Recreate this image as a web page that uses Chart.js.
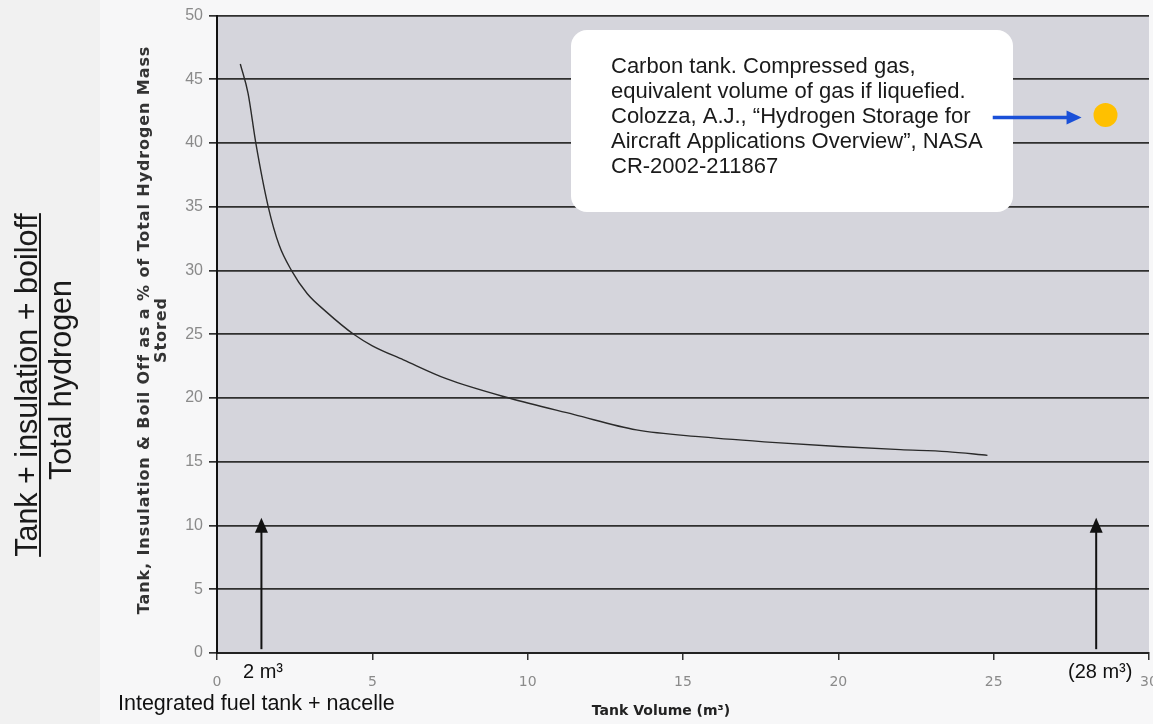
<!DOCTYPE html>
<html>
<head>
<meta charset="utf-8">
<script src="https://cdn.jsdelivr.net/npm/chart.js@4"></script>
<style>
  html, body { margin: 0; overflow: hidden; background: #f7f7f8; }
  canvas { display: block; }
</style>
</head>
<body>
<canvas id="chartId" width="1153" height="724"></canvas>
<script>
const localChart = document.getElementById("chartId");

// tank volume (m3) vs tank + insulation + boil off as % of hydrogen stored
const volume = [0.75, 1.0, 1.25, 1.65, 2.0, 2.4, 2.9, 3.5, 4.4, 5.0, 6.0, 7.4, 9.4, 11.5, 13.5, 15.6, 18.0, 20.0, 22.0, 23.5, 24.8]
const massPct = [46.2, 43.9, 40.0, 35.0, 32.0, 30.0, 28.2, 26.8, 25.0, 24.1, 23.0, 21.5, 20.0, 18.7, 17.5, 16.95, 16.5, 16.2, 15.95, 15.8, 15.5]

// carbon compressed gas tank
const carbonVolume = [28.6]
const carbonPct = [42.2]

const xTicks = [0, 5, 10, 15, 20, 25, 30]
const yTicks = [0, 5, 10, 15, 20, 25, 30, 35, 40, 45, 50]

const noteLines = [
    'Carbon tank. Compressed gas,',
    'equivalent volume of gas if liquefied.',
    'Colozza, A.J., \u201cHydrogen Storage for',
    'Aircraft Applications Overview\u201d, NASA',
    'CR-2002-211867'
]

const curvePoints = volume.map((v, i) => ({ x: v, y: massPct[i] }))
const carbonPoints = carbonVolume.map((v, i) => ({ x: v, y: carbonPct[i] }))

const arrowUp = (ctx, x, y0, y1) => {
    ctx.beginPath()
    ctx.moveTo(x, y0)
    ctx.lineTo(x, y1 + 12)
    ctx.stroke()
    ctx.beginPath()
    ctx.moveTo(x, y1)
    ctx.lineTo(x - 6.5, y1 + 15)
    ctx.lineTo(x + 6.5, y1 + 15)
    ctx.closePath()
    ctx.fill()
}

const decorations = {
    id: 'decorations',
    beforeDraw(chart) {
        const { ctx, chartArea: a } = chart
        ctx.save()
        ctx.fillStyle = '#f7f7f8'
        ctx.fillRect(0, 0, chart.width, chart.height)
        ctx.fillStyle = '#f1f1f1'
        ctx.fillRect(0, 0, 100, chart.height)
        ctx.fillStyle = '#d5d5dc'
        ctx.fillRect(a.left, a.top, a.right - a.left, a.bottom - a.top)
        ctx.restore()
    },
    afterDatasetsDraw(chart) {
        const { ctx, scales: { x, y } } = chart
        ctx.save()

        // markers for 2 m3 and 28 m3
        ctx.strokeStyle = '#111'
        ctx.fillStyle = '#111'
        ctx.lineWidth = 2
        arrowUp(ctx, x.getPixelForValue(1.43), y.getPixelForValue(0.3), y.getPixelForValue(10.6))
        arrowUp(ctx, x.getPixelForValue(28.3), y.getPixelForValue(0.3), y.getPixelForValue(10.6))

        // note box
        const bx = 571, by = 30, bw = 442, bh = 182, r = 16
        ctx.fillStyle = '#ffffff'
        ctx.beginPath()
        ctx.roundRect(bx, by, bw, bh, r)
        ctx.fill()
        ctx.fillStyle = '#1a1a1a'
        ctx.font = '22px "Liberation Sans", Arial, sans-serif'
        ctx.textBaseline = 'middle'
        ctx.textAlign = 'left'
        noteLines.forEach((t, i) => ctx.fillText(t, 611, 67 + i * 25))

        // blue arrow to the carbon tank point
        const ay = y.getPixelForValue(42.0)
        const ax0 = x.getPixelForValue(24.97)
        const ax1 = x.getPixelForValue(27.83)
        ctx.strokeStyle = '#1a50d8'
        ctx.fillStyle = '#1a50d8'
        ctx.lineWidth = 3.5
        ctx.beginPath()
        ctx.moveTo(ax0, ay)
        ctx.lineTo(ax1 - 12, ay)
        ctx.stroke()
        ctx.beginPath()
        ctx.moveTo(ax1, ay)
        ctx.lineTo(ax1 - 15, ay - 7)
        ctx.lineTo(ax1 - 15, ay + 7)
        ctx.closePath()
        ctx.fill()

        // labels below the axis
        ctx.fillStyle = '#111'
        ctx.font = '20px "Liberation Sans", Arial, sans-serif'
        ctx.fillText('2 m\u00b3', 243, 672)
        ctx.fillText('(28 m\u00b3)', 1068, 672)
        ctx.font = '21.5px "Liberation Sans", Arial, sans-serif'
        ctx.fillText('Integrated fuel tank + nacelle', 118, 704)

        ctx.fillStyle = '#222'
        ctx.font = 'bold 14px "DejaVu Sans", sans-serif'
        ctx.textAlign = 'center'
        ctx.fillText('Tank Volume (m\u00b3)', 661, 711)

        // axis title, two lines
        ctx.fillStyle = '#333'
        ctx.font = 'bold 16px "DejaVu Sans", sans-serif'
        ctx.letterSpacing = '0.9px'
        ctx.save()
        ctx.translate(145, 330)
        ctx.rotate(-Math.PI / 2)
        ctx.fillText('Tank, Insulation & Boil Off as a % of Total Hydrogen Mass', 0, 0)
        ctx.fillText('Stored', 0, 17)
        ctx.restore()
        ctx.letterSpacing = '0px'

        // ratio label on the far left
        ctx.fillStyle = '#1a1a1a'
        ctx.font = '30.5px "Liberation Sans", Arial, sans-serif'
        ctx.save()
        ctx.translate(0, 385)
        ctx.rotate(-Math.PI / 2)
        ctx.textBaseline = 'alphabetic'
        ctx.fillText('Tank + insulation + boiloff', 0, 37)
        ctx.fillText('Total hydrogen', 5, 71)
        const w = ctx.measureText('Tank + insulation + boiloff').width
        ctx.fillRect(-w / 2, 39, w, 2)
        ctx.restore()

        ctx.restore()
    }
}

new Chart(localChart, {
    type: 'scatter',
    data: {
        datasets: [{
            label: 'Tank + insulation + boil off',
            data: curvePoints,
            showLine: true,
            borderColor: '#2a2a2a',
            borderWidth: 1.4,
            pointRadius: 0,
            cubicInterpolationMode: 'monotone'
        }, {
            label: 'Carbon tank',
            data: carbonPoints,
            pointRadius: 12,
            pointBackgroundColor: '#ffc000',
            pointBorderWidth: 0
        }]
    },
    options: {
        responsive: false,
        animation: false,
        layout: { autoPadding: false, padding: { top: 15, right: 4, left: 0, bottom: 0 } },
        plugins: { legend: { display: false }, tooltip: { enabled: false } },
        scales: {
            x: {
                type: 'linear',
                min: 0,
                max: 30,
                afterBuildTicks: (s) => { s.ticks = xTicks.map(v => ({ value: v })) },
                afterFit: (s) => { s.height = 71; s.paddingRight = 0 },
                grid: { drawOnChartArea: false, color: '#333', tickLength: 7, lineWidth: 1.5 },
                border: { color: '#222', width: 2 },
                ticks: { color: '#8a8a8a', padding: 14, font: { family: 'DejaVu Sans', size: 14 } }
            },
            y: {
                min: 0,
                max: 50,
                afterBuildTicks: (s) => { s.ticks = yTicks.map(v => ({ value: v })) },
                afterFit: (s) => { s.width = 217 },
                grid: { color: '#2f2f2f', tickLength: 8, lineWidth: 1.7 },
                border: { color: '#111', width: 2 },
                ticks: { color: '#8a8a8a', padding: 6, font: { family: 'Liberation Sans', size: 16 } }
            }
        }
    },
    plugins: [decorations]
});
</script>
</body>
</html>
